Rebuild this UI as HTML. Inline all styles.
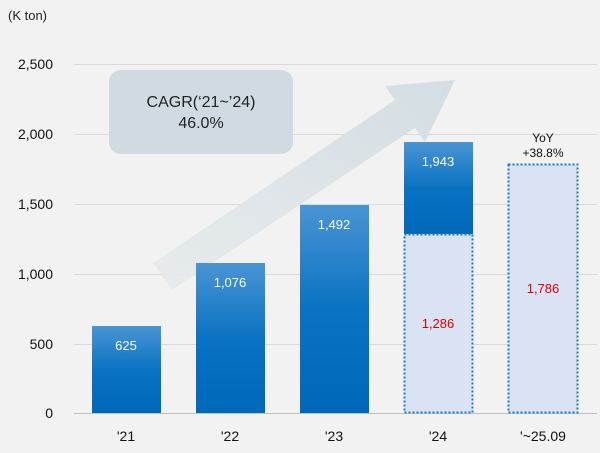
<!DOCTYPE html>
<html><head><style>
body{margin:0;background:#f2f2f2;}
svg{display:block;font-family:"Liberation Sans",sans-serif;}
</style></head><body>
<svg width="600" height="453" viewBox="0 0 600 453">
<defs>
<linearGradient id="b" x1="0" y1="0" x2="0" y2="1">
<stop offset="0" stop-color="#4a95d3"/><stop offset="0.5" stop-color="#0a72c2"/><stop offset="1" stop-color="#0068b8"/>
</linearGradient>
<linearGradient id="a" x1="0" y1="1" x2="1" y2="0">
<stop offset="0" stop-color="#e6eaec" stop-opacity="0.9"/><stop offset="1" stop-color="#d3dde3"/>
</linearGradient>
</defs>
<rect width="600" height="453" fill="#f2f2f2"/>
<text x="8" y="20" font-size="13" fill="#222">(K ton)</text>
<g stroke="#d9d9d9" stroke-width="1">
<line x1="74" y1="64.5" x2="597" y2="64.5"/>
<line x1="74" y1="134.5" x2="597" y2="134.5"/>
<line x1="74" y1="204.5" x2="597" y2="204.5"/>
<line x1="74" y1="274.5" x2="597" y2="274.5"/>
<line x1="74" y1="344.5" x2="597" y2="344.5"/>
</g>
<line x1="74" y1="413.5" x2="597" y2="413.5" stroke="#bfbfbf"/>
<g font-size="14" fill="#111" text-anchor="end">
<text x="53" y="69">2,500</text><text x="53" y="139">2,000</text><text x="53" y="209">1,500</text>
<text x="53" y="279">1,000</text><text x="53" y="349">500</text><text x="53" y="418">0</text>
</g>
<polygon points="153,263 395,100 385,86 455,80 425,142 415,128 172,290" fill="url(#a)"/>
<rect x="109" y="70" width="184" height="84" rx="12" fill="#d0dbe1"/>
<text x="201" y="107" font-size="16" fill="#222" text-anchor="middle">CAGR(‘21~’24)</text>
<text x="201" y="128" font-size="16" fill="#222" text-anchor="middle">46.0%</text>
<rect x="92" y="326" width="69" height="87" fill="url(#b)"/>
<rect x="196" y="263" width="69" height="150" fill="url(#b)"/>
<rect x="300" y="205" width="69" height="208" fill="url(#b)"/>
<rect x="404" y="142" width="69" height="92" fill="url(#b)"/>
<rect x="404.5" y="234.5" width="68" height="178" fill="#dae3f3" stroke="#1a7ad0" stroke-width="2" stroke-dasharray="2,2"/>
<rect x="508.5" y="164.5" width="69" height="248" fill="#dae3f3" stroke="#1a7ad0" stroke-width="2" stroke-dasharray="2,2"/>
<g font-size="13" fill="#fff" text-anchor="middle">
<text x="126" y="350">625</text><text x="230" y="287">1,076</text><text x="334" y="229">1,492</text><text x="438" y="166">1,943</text>
</g>
<g font-size="13" fill="#e00000" text-anchor="middle">
<text x="438" y="328">1,286</text><text x="543" y="293">1,786</text>
</g>
<text x="543" y="142" font-size="12" fill="#111" text-anchor="middle">YoY</text>
<text x="543" y="157" font-size="12" fill="#111" text-anchor="middle">+38.8%</text>
<g font-size="14" fill="#111" text-anchor="middle">
<text x="126" y="441">'21</text><text x="230" y="441">'22</text><text x="334" y="441">'23</text><text x="438" y="441">'24</text><text x="543" y="441">'~25.09</text>
</g>
</svg>
</body></html>
